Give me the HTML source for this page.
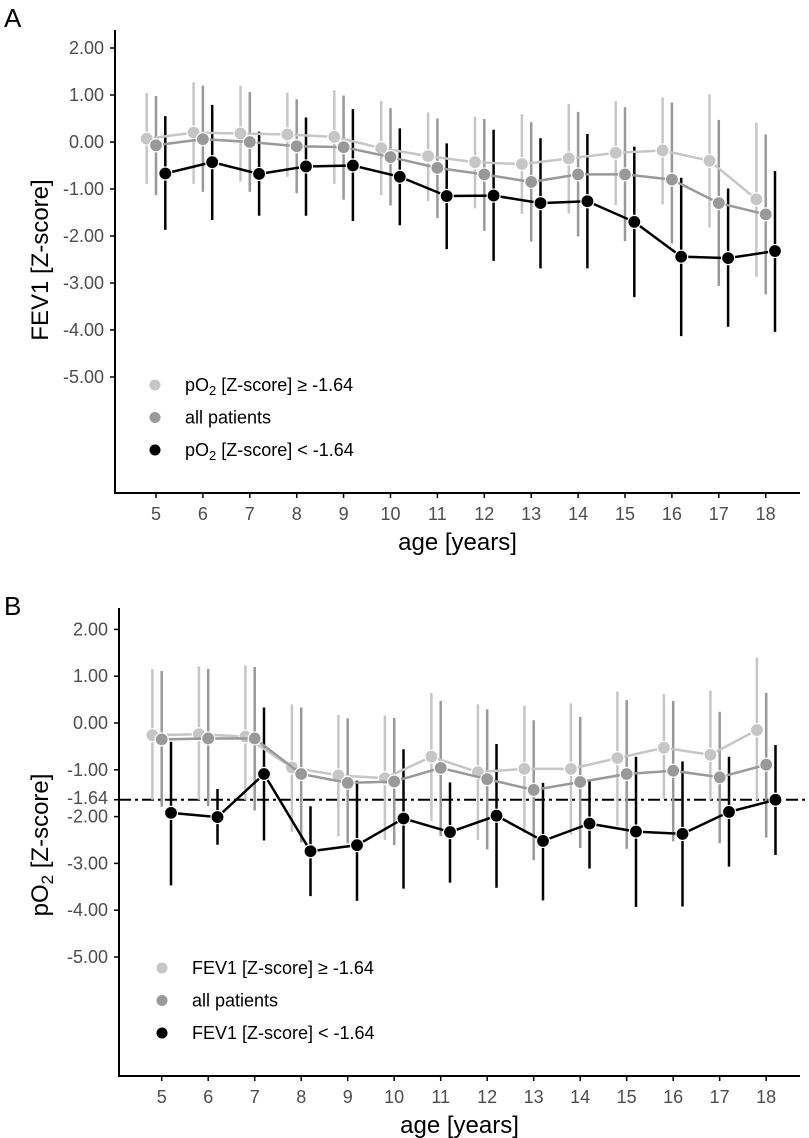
<!DOCTYPE html>
<html><head><meta charset="utf-8"><style>
body{margin:0;background:#fff}
svg{display:block;font-family:"Liberation Sans",Arial,sans-serif}
</style></head><body>
<svg id="chart" width="809" height="1138" viewBox="0 0 809 1138"></svg>
<script>
const ages=[5,6,7,8,9,10,11,12,13,14,15,16,17,18];
const yTicks=[2,1,0,-1,-2,-3,-4,-5];
const yTickLabels=["2.00","1.00","0.00","-1.00","-2.00","-3.00","-4.00","-5.00"];
// Panel A (FEV1)
const aLight=[0.07,0.2,0.18,0.16,0.11,-0.13,-0.3,-0.43,-0.47,-0.35,-0.23,-0.18,-0.4,-1.22];
const aLightHi=[1.04,1.27,1.2,1.05,1.1,0.87,0.63,0.54,0.59,0.81,0.87,0.95,1.01,0.41];
const aLightLo=[-0.89,-0.89,-0.84,-0.74,-0.89,-1.13,-1.26,-1.41,-1.53,-1.52,-1.34,-1.33,-1.82,-2.87];
const aAll=[-0.07,0.06,0.0,-0.09,-0.11,-0.32,-0.55,-0.69,-0.85,-0.69,-0.69,-0.8,-1.3,-1.54];
const aAllHi=[0.98,1.2,1.06,0.91,0.99,0.72,0.5,0.49,0.42,0.64,0.74,0.84,0.47,0.16];
const aAllLo=[-1.13,-1.06,-1.06,-1.09,-1.23,-1.35,-1.62,-1.89,-2.12,-2.01,-2.11,-2.16,-3.06,-3.24];
const aDark=[-0.67,-0.43,-0.68,-0.52,-0.5,-0.74,-1.15,-1.14,-1.3,-1.26,-1.7,-2.44,-2.47,-2.32];
const aDarkHi=[0.55,0.79,0.22,0.52,0.7,0.29,-0.03,0.26,0.08,0.17,-0.1,-0.76,-0.99,-0.62];
const aDarkLo=[-1.87,-1.66,-1.57,-1.57,-1.68,-1.77,-2.28,-2.53,-2.69,-2.69,-3.3,-4.13,-3.93,-4.04];
// Panel B (pO2)
const bLight=[-0.26,-0.24,-0.29,-0.95,-1.12,-1.18,-0.72,-1.05,-0.98,-0.98,-0.75,-0.53,-0.68,-0.15];
const bLightHi=[1.15,1.21,1.23,0.4,0.17,0.16,0.64,0.4,0.37,0.42,0.67,0.62,0.69,1.4];
const bLightLo=[-1.64,-1.64,-1.64,-2.33,-2.42,-2.5,-2.1,-2.5,-2.35,-2.38,-2.21,-1.62,-1.64,-1.64];
const bAll=[-0.35,-0.33,-0.33,-1.09,-1.28,-1.25,-0.96,-1.2,-1.43,-1.26,-1.09,-1.02,-1.16,-0.89];
const bAllHi=[1.11,1.16,1.2,0.33,0.1,0.11,0.47,0.29,0.06,0.13,0.49,0.47,0.24,0.64];
const bAllLo=[-1.79,-1.78,-1.87,-2.55,-2.57,-2.61,-2.42,-2.7,-2.93,-2.67,-2.69,-2.53,-2.57,-2.45];
const bDark=[-1.92,-2.01,-1.09,-2.74,-2.61,-2.04,-2.33,-1.98,-2.52,-2.15,-2.32,-2.37,-1.9,-1.64];
const bDarkHi=[-0.4,-1.41,0.33,-1.78,-1.23,-0.56,-1.27,-0.45,-1.28,-1.21,-0.72,-0.82,-0.72,-0.47];
const bDarkLo=[-3.47,-2.6,-2.51,-3.7,-3.8,-3.54,-3.41,-3.52,-3.79,-3.11,-3.93,-3.92,-3.07,-2.82];
const threshold=-1.64;

const NS="http://www.w3.org/2000/svg";
const svg=document.getElementById('chart');
function mk(tag,attrs,parent){const e=document.createElementNS(NS,tag);for(const k in attrs)e.setAttribute(k,attrs[k]);(parent||svg).appendChild(e);return e;}
const COL={light:"#c6c6c6",all:"#999999",dark:"#000000"};

function panel(cfg){
  const g=mk('g',{});
  
  
  const x=a=>cfg.x0+cfg.dx*(a-5);
  const y=v=>cfg.y0-cfg.dy*v;
  const ya=mk('line',{x1:cfg.ax,y1:cfg.top,x2:cfg.ax,y2:cfg.bottom,stroke:'#000','stroke-width':2},g);
  
  
  const xa=mk('line',{x1:cfg.ax-1,y1:cfg.bottom,x2:800,y2:cfg.bottom,stroke:'#000','stroke-width':2},g);
  
  
  yTicks.forEach((t,i)=>{
    mk('line',{x1:cfg.ax-5,y1:y(t),x2:cfg.ax,y2:y(t),stroke:'#000','stroke-width':1.5},g);
    const tx=mk('text',{x:cfg.ax-11,y:y(t)+6,'text-anchor':'end','font-size':18,fill:'#4d4d4d'},g);
    tx.textContent=yTickLabels[i];
    
    
  });
  ages.forEach(a=>{
    mk('line',{x1:x(a),y1:cfg.bottom,x2:x(a),y2:cfg.bottom+5,stroke:'#000','stroke-width':1.5},g);
    const tx=mk('text',{x:x(a),y:cfg.bottom+27,'text-anchor':'middle','font-size':18,fill:'#4d4d4d'},g);
    tx.textContent=a;
    
    
  });
  if(cfg.thresh){
    mk('line',{x1:cfg.ax-5,y1:y(threshold),x2:cfg.ax,y2:y(threshold),stroke:'#000','stroke-width':1.5},g);
    const tl=mk('text',{x:cfg.ax-11,y:y(threshold)+4,'text-anchor':'end','font-size':18,fill:'#4d4d4d'},g);
    tl.textContent="-1.64";
    
    
    const dl=mk('line',{x1:cfg.ax,y1:y(threshold),x2:805,y2:y(threshold),stroke:'#000','stroke-width':2,'stroke-dasharray':'12,4,3,4'},g);
    
    
  }
  const series=[
    {k:'light',off:-9.3,v:cfg.s[0],hi:cfg.s[1],lo:cfg.s[2]},
    {k:'all',off:0,v:cfg.s[3],hi:cfg.s[4],lo:cfg.s[5]},
    {k:'dark',off:9.3,v:cfg.s[6],hi:cfg.s[7],lo:cfg.s[8]}];
  series.forEach(s=>{
    s.v.forEach((v,i)=>{
      const eb=mk('line',{x1:x(ages[i])+s.off,y1:y(s.hi[i]),x2:x(ages[i])+s.off,y2:y(s.lo[i]),stroke:COL[s.k],'stroke-width':2.5},g);
      
      
    });
  });
  series.forEach(s=>{
    const pts=s.v.map((v,i)=>(x(ages[i])+s.off)+','+y(v)).join(' ');
    const pl=mk('polyline',{points:pts,fill:'none',stroke:COL[s.k],'stroke-width':2.5},g);
    
    
    s.v.forEach((v,i)=>{
      const c=mk('circle',{cx:x(ages[i])+s.off,cy:y(v),r:6.5,fill:COL[s.k],stroke:'#fff','stroke-width':1.2},g);
      
      
    });
  });
  cfg.legend.forEach((l,i)=>{
    const ly=cfg.legY+i*32.5;
    const c=mk('circle',{cx:cfg.legX,cy:ly,r:5.5,fill:COL[['light','all','dark'][i]]},g);
    
    
    const t=mk('text',{x:cfg.legX+30,y:ly+6,'font-size':18,fill:'#000'},g);
    t.innerHTML=l;
    
    
  });
  const xt=mk('text',{x:(cfg.ax+800)/2,y:cfg.bottom+57,'text-anchor':'middle','font-size':24},g);
  xt.textContent="age [years]";
  
  
  const yt=mk('text',{x:0,y:0,'text-anchor':'middle','font-size':24,transform:`translate(48,${cfg.yTitleY}) rotate(-90)`},g);
  yt.innerHTML=cfg.yTitle;
  
  
  const pl=mk('text',{x:4,y:cfg.labelY,'font-size':26},g);
  pl.textContent=cfg.label;
  
  
}
panel({name:'panel-a-fev1',x0:156,dx:46.9,y0:142,dy:47,ax:115,top:30,bottom:493,
  s:[aLight,aLightHi,aLightLo,aAll,aAllHi,aAllLo,aDark,aDarkHi,aDarkLo],
  legX:155,legY:385,
  legend:['pO<tspan font-size="13" dy="4">2</tspan><tspan dy="-4"> [Z-score] ≥ -1.64</tspan>','all patients','pO<tspan font-size="13" dy="4">2</tspan><tspan dy="-4"> [Z-score] &lt; -1.64</tspan>'],
  yTitle:'FEV1 [Z-score]',yTitleY:260,label:'A',labelY:27});
panel({name:'panel-b-po2',x0:161.7,dx:46.5,y0:723,dy:46.8,ax:119,top:608,bottom:1076,thresh:true,
  s:[bLight,bLightHi,bLightLo,bAll,bAllHi,bAllLo,bDark,bDarkHi,bDarkLo],
  legX:162,legY:968,
  legend:['FEV1 [Z-score] ≥ -1.64','all patients','FEV1 [Z-score] &lt; -1.64'],
  yTitle:'pO<tspan font-size="17" dy="5">2</tspan><tspan dy="-5"> [Z-score]</tspan>',yTitleY:845,label:'B',labelY:615});
</script>
</body></html>
